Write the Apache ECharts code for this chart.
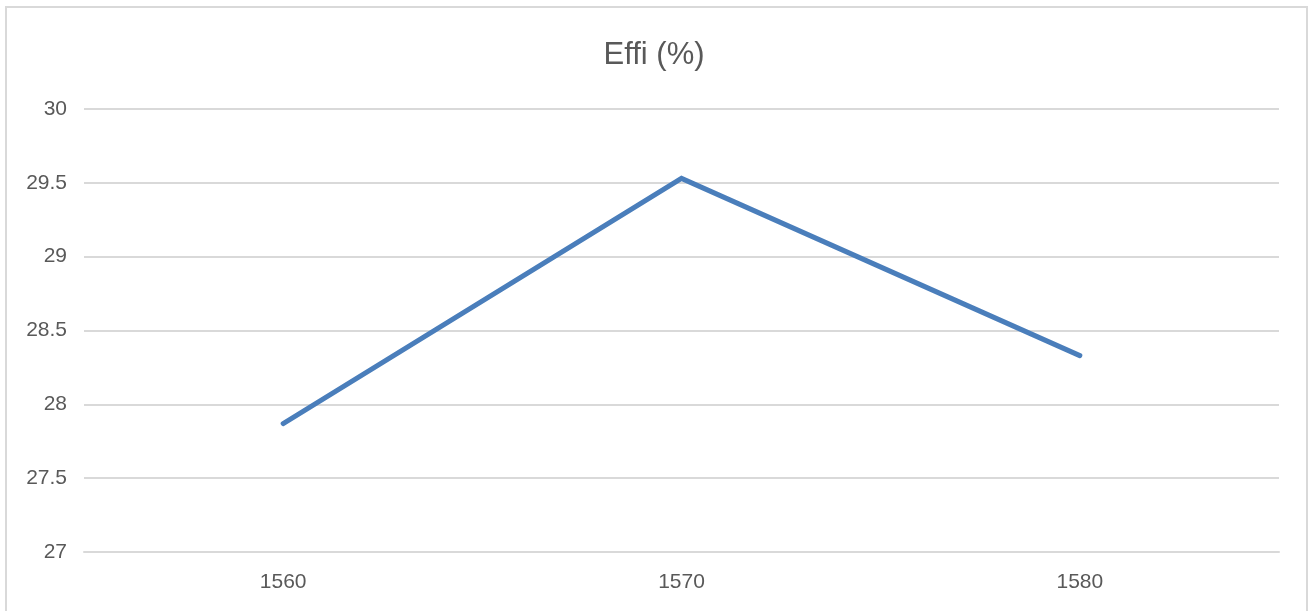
<!DOCTYPE html>
<html>
<head>
<meta charset="utf-8">
<script src="https://cdn.jsdelivr.net/npm/echarts@6/dist/echarts.min.js"></script>
<style>
  html, body { margin: 0; padding: 0; background: #fff; }
  #chart { width: 1308px; height: 611px; }
</style>
</head>
<body>
<div id="chart"></div>
<script>
// Wavelength categories (x axis)
const categories = ['1560', '1570', '1580'];
// Efficiency values (%)
const effiValues = [27.87, 29.53, 28.33];
// Value axis range
const yMin = 27;
const yMax = 30;
const yStep = 0.5;

const chart = echarts.init(document.getElementById('chart'));
const labelFont = '"Liberation Sans", Arial, sans-serif';

chart.setOption({
  backgroundColor: '#ffffff',
  animation: false,
  title: {
    text: 'Effi (%)',
    left: 'center',
    top: 35,
    textStyle: { fontFamily: labelFont, fontSize: 31, fontWeight: 'normal', color: '#595959' }
  },
  graphic: [{
    type: 'rect',
    silent: true,
    shape: { x: 6, y: 7, width: 1301, height: 640 },
    style: { fill: 'none', stroke: '#d9d9d9', lineWidth: 2 }
  }],
  grid: { left: 84, right: 29, top: 109, bottom: 59, containLabel: false },
  xAxis: {
    type: 'category',
    data: categories,
    boundaryGap: true,
    axisLine: { show: true, lineStyle: { color: '#d9d9d9', width: 2 } },
    axisTick: { show: false },
    axisLabel: { margin: 20, fontFamily: labelFont, fontSize: 21, color: '#595959' },
    splitLine: { show: false }
  },
  yAxis: {
    type: 'value',
    min: yMin,
    max: yMax,
    interval: yStep,
    axisLine: { show: false },
    axisTick: { show: false },
    axisLabel: { margin: 17, fontFamily: labelFont, fontSize: 21, color: '#595959' },
    splitLine: { show: true, lineStyle: { color: '#d9d9d9', width: 2 } }
  },
  series: [{
    name: 'Effi (%)',
    type: 'line',
    data: effiValues,
    symbol: 'none',
    lineStyle: { color: '#4a7ebb', width: 5, cap: 'round', join: 'miter' },
    itemStyle: { color: '#4a7ebb' }
  }]
});
</script>
</body>
</html>
